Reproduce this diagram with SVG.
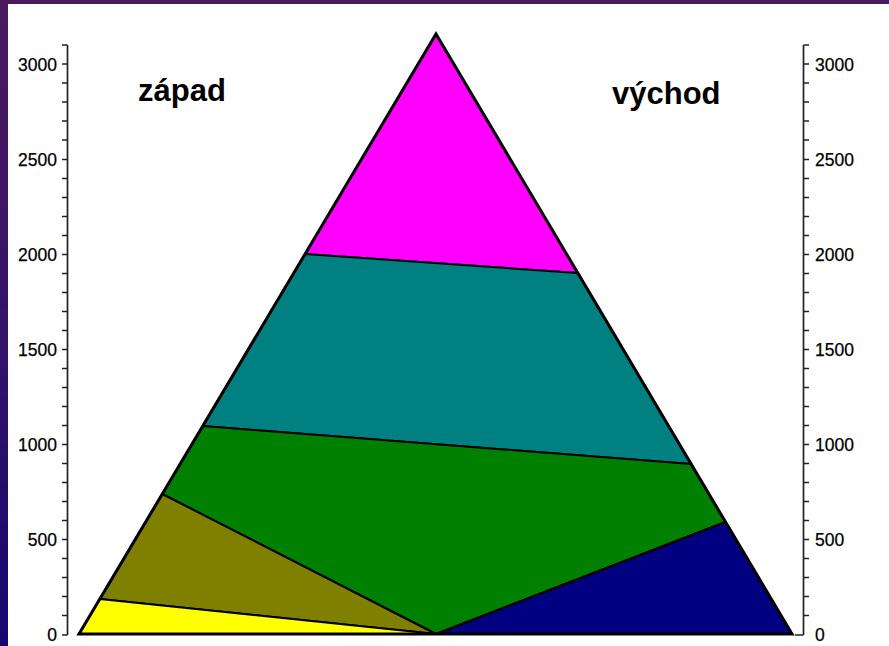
<svg xmlns="http://www.w3.org/2000/svg" width="889" height="646" viewBox="0 0 889 646">
<defs>
<linearGradient id="side" x1="0" y1="0" x2="0" y2="1">
<stop offset="0" stop-color="#4a1a5c"/>
<stop offset="0.5" stop-color="#361369"/>
<stop offset="1" stop-color="#150870"/>
</linearGradient>
<style>
.ax{stroke:#222;stroke-width:1.7;fill:none}
.tk{font-family:"Liberation Sans",Arial,sans-serif;font-size:17.5px;fill:#000;stroke:#000;stroke-width:0.25}
.ttl{font-family:"Liberation Sans",Arial,sans-serif;font-size:31px;font-weight:bold;fill:#000}
.rg{stroke:#000;stroke-width:2;stroke-linejoin:round}
</style>
</defs>
<rect x="0" y="0" width="889" height="646" fill="#fff"/>
<rect x="0" y="0" width="889" height="4" fill="#4a1a5c"/>
<rect x="0" y="0" width="8" height="646" fill="url(#side)"/>

<g id="left-axis">
<path class="ax" d="M67.5 45V635 M62 45H67.5 M62 64H67.5 M62 83H67.5 M62 102H67.5 M62 121H67.5 M62 140H67.5 M62 159.5H67.5 M62 178.5H67.5 M62 197.5H67.5 M62 216.5H67.5 M62 235.5H67.5 M62 254.5H67.5 M62 273.5H67.5 M62 292.5H67.5 M62 311.5H67.5 M62 330.5H67.5 M62 349.5H67.5 M62 368.5H67.5 M62 387.5H67.5 M62 406.5H67.5 M62 425.5H67.5 M62 444.5H67.5 M62 463.5H67.5 M62 482.5H67.5 M62 501.5H67.5 M62 520.5H67.5 M62 539.5H67.5 M62 558.5H67.5 M62 577.5H67.5 M62 596.5H67.5 M62 615.5H67.5 M62 635H67.5"/>
<g class="tk" text-anchor="end">
<text x="57" y="70.8">3000</text>
<text x="57" y="165.8">2500</text>
<text x="57" y="260.8">2000</text>
<text x="57" y="355.8">1500</text>
<text x="57" y="450.8">1000</text>
<text x="57" y="545.8">500</text>
<text x="57" y="641.3">0</text>
</g>
</g>

<g id="right-axis">
<path class="ax" d="M803.5 45V635 M803.5 45H809 M803.5 64H809 M803.5 83H809 M803.5 102H809 M803.5 121H809 M803.5 140H809 M803.5 159.5H809 M803.5 178.5H809 M803.5 197.5H809 M803.5 216.5H809 M803.5 235.5H809 M803.5 254.5H809 M803.5 273.5H809 M803.5 292.5H809 M803.5 311.5H809 M803.5 330.5H809 M803.5 349.5H809 M803.5 368.5H809 M803.5 387.5H809 M803.5 406.5H809 M803.5 425.5H809 M803.5 444.5H809 M803.5 463.5H809 M803.5 482.5H809 M803.5 501.5H809 M803.5 520.5H809 M803.5 539.5H809 M803.5 558.5H809 M803.5 577.5H809 M803.5 596.5H809 M803.5 615.5H809 M795 635H803.5"/>
<g class="tk">
<text x="815" y="70.8">3000</text>
<text x="815" y="165.8">2500</text>
<text x="815" y="260.8">2000</text>
<text x="815" y="355.8">1500</text>
<text x="815" y="450.8">1000</text>
<text x="815" y="545.8">500</text>
<text x="815" y="641.3">0</text>
</g>
</g>

<g id="zone-magenta"><polygon class="rg" fill="#ff00ff" points="436,34 305.1,254 577.8,273"/></g>
<g id="zone-teal"><polygon class="rg" fill="#008080" points="305.1,254 577.8,273 691.1,464 202.8,426"/></g>
<g id="zone-green"><polygon class="rg" fill="#008000" points="202.8,426 691.1,464 725.5,522 436,634 162.3,494"/></g>
<g id="zone-olive"><polygon class="rg" fill="#808000" points="162.3,494 436,634 99.8,599"/></g>
<g id="zone-yellow"><polygon class="rg" fill="#ffff00" points="99.8,599 436,634 79,634"/></g>
<g id="zone-navy"><polygon class="rg" fill="#000080" points="725.5,522 792,634 436,634"/></g>

<g id="outline"><polygon points="436,34 792,634 79,634" fill="none" stroke="#000" stroke-width="3" stroke-linejoin="miter"/></g>

<g id="labels">
<text class="ttl" x="138" y="101">západ</text>
<text class="ttl" x="612" y="104">východ</text>
</g>
</svg>
